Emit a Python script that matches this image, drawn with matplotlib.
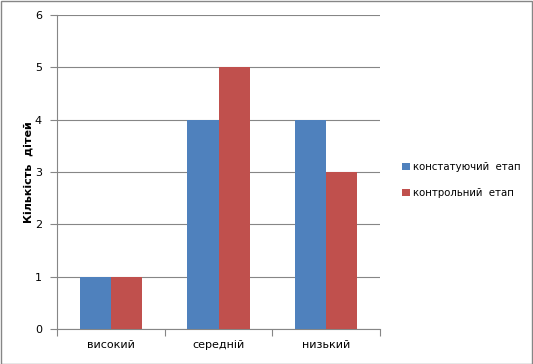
import matplotlib.pyplot as plt
import numpy as np

categories = ['високий', 'середній', 'низький']
series_names = ['констатуючий  етап', 'контрольний  етап']
constat = [1, 4, 4]
control = [1, 5, 3]
colors = ['#4F81BD', '#C0504D']

fig = plt.figure(figsize=(5.33, 3.64), dpi=100)
ax = fig.add_axes([0.107, 0.096, 0.606, 0.863])

x = np.arange(len(categories))
w = 0.29
b1 = ax.bar(x - w / 2, constat, w, color=colors[0], label=series_names[0], zorder=3)
b2 = ax.bar(x + w / 2, control, w, color=colors[1], label=series_names[1], zorder=3)

ax.set_xlim(-0.5, 2.5)
ax.set_ylim(0, 6)
ax.set_yticks(range(0, 7))
ax.yaxis.grid(True, color='#868686', linewidth=0.8, zorder=0)
ax.set_axisbelow(True)

ax.set_xticks([-0.5, 0.5, 1.5, 2.5])
ax.set_xticklabels([])
ax.set_xticks(x, minor=True)
ax.set_xticklabels(categories, minor=True)
ax.tick_params(axis='x', which='minor', length=0, pad=8, labelsize=8)
ax.tick_params(axis='x', which='major', length=5, color='#868686', direction='out')
ax.tick_params(axis='y', length=5, color='#868686', direction='out', labelsize=8, pad=6)

for s in ['top', 'right']:
    ax.spines[s].set_visible(False)
for s in ['left', 'bottom']:
    ax.spines[s].set_color('#868686')

ax.set_ylabel('Кількість  дітей', fontsize=8, fontweight='bold', labelpad=1)

fig.legend(handles=[b1, b2], loc='center left', bbox_to_anchor=(0.738, 0.505),
           frameon=False, fontsize=7.3, handlelength=0.7, handleheight=0.7,
           handletextpad=0.3, labelspacing=1.6)

fig.patches.append(plt.Rectangle((0.001, 0.001), 0.997, 0.997, transform=fig.transFigure,
                                 fill=False, edgecolor='#868686', linewidth=1))

fig.savefig('out.png', dpi=100, facecolor='white')
